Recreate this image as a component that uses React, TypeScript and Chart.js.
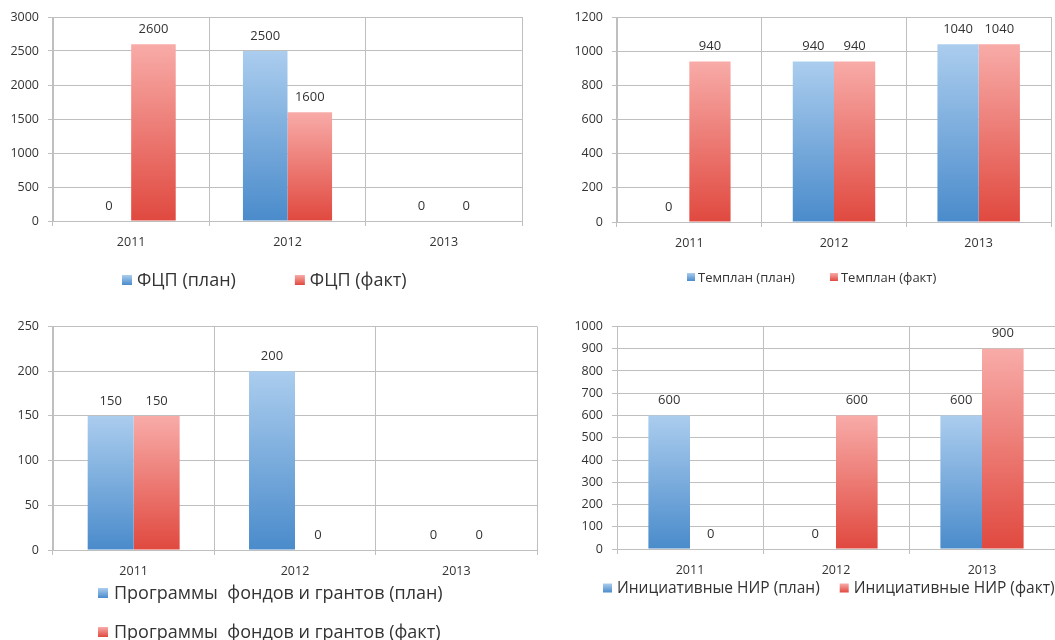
import React, { useEffect, useRef } from "react";
import { Chart, registerables } from "chart.js";
Chart.register(...registerables);

// ---------- data ----------
const years = ["2011", "2012", "2013"];

const fcpLabels = ["ФЦП (план)", "ФЦП (факт)"];
const fcpPlan = [0, 2500, 0];
const fcpFact = [2600, 1600, 0];

const templanLabels = ["Темплан (план)", "Темплан (факт)"];
const templanPlan = [0, 940, 1040];
const templanFact = [940, 940, 1040];

const grantLabels = ["Программы  фондов и грантов (план)", "Программы  фондов и грантов (факт)"];
const grantPlan = [150, 200, 0];
const grantFact = [150, 0, 0];

const nirLabels = ["Инициативные НИР (план)", "Инициативные НИР (факт)"];
const nirPlan = [600, 0, 600];
const nirFact = [0, 600, 900];

// ---------- styles ----------
const FONT = "'Open Sans', 'Noto Sans', sans-serif";
const TEXT = "#333333";
const GRID = "#bfbfbf";
const BLUE: [string, string] = ["#abcdee", "#4a8bcb"];
const RED: [string, string] = ["#f8aba8", "#e0493f"];

type LegendCfg = { x: number; y: number; size: number; box: number; textGap: number; gap: number; wrap?: boolean; rowGap?: number };
type Spec = {
  left: number; top: number; width: number; height: number;
  labels: string[]; plan: number[]; fact: number[];
  max: number; step: number;
  yW: number; xH: number; padTop: number; padRight: number; padBottom: number;
  legend: LegendCfg;
};

const specs: Spec[] = [
  { left: 0, top: 0, width: 530, height: 300, labels: fcpLabels, plan: fcpPlan, fact: fcpFact, max: 3000, step: 500,
    yW: 53, xH: 35, padTop: 17, padRight: 8, padBottom: 44,
    legend: { x: 122, y: 280, size: 18, box: 10, textGap: 5, gap: 59 } },
  { left: 530, top: 0, width: 525, height: 300, labels: templanLabels, plan: templanPlan, fact: templanFact, max: 1200, step: 200,
    yW: 87, xH: 37, padTop: 17, padRight: 4, padBottom: 41,
    legend: { x: 157, y: 277, size: 13, box: 8, textGap: 3, gap: 35 } },
  { left: 0, top: 310, width: 540, height: 330, labels: grantLabels, plan: grantPlan, fact: grantFact, max: 250, step: 50,
    yW: 53, xH: 35, padTop: 14, padRight: 3, padBottom: 55,
    legend: { x: 98, y: 283, size: 18, box: 10, textGap: 6, gap: 20, wrap: true, rowGap: 39 } },
  { left: 540, top: 310, width: 515, height: 330, labels: nirLabels, plan: nirPlan, fact: nirFact, max: 1000, step: 100,
    yW: 77, xH: 35, padTop: 16, padRight: 0, padBottom: 56,
    legend: { x: 63, y: 278, size: 15.5, box: 9, textGap: 5, gap: 20 } },
];

function gradientFill(colors: [string, string]) {
  return (ctx: any) => {
    const chart = ctx.chart;
    const y = chart.scales && chart.scales.y;
    if (!y || ctx.type !== "data") return colors[1];
    const v = ctx.raw as number;
    const top = y.getPixelForValue(v);
    const bot = y.getPixelForValue(0);
    if (!isFinite(top) || !isFinite(bot) || bot - top < 1) return colors[1];
    const g = chart.ctx.createLinearGradient(0, top, 0, bot);
    g.addColorStop(0, colors[0]);
    g.addColorStop(1, colors[1]);
    return g;
  };
}

const valueLabels = {
  id: "valueLabels",
  afterDatasetsDraw(chart: any) {
    const ctx = chart.ctx;
    ctx.save();
    ctx.font = `13px ${FONT}`;
    ctx.fillStyle = TEXT;
    ctx.textAlign = "center";
    ctx.textBaseline = "middle";
    chart.data.datasets.forEach((ds: any, di: number) => {
      const meta = chart.getDatasetMeta(di);
      meta.data.forEach((bar: any, i: number) => {
        ctx.fillText(String(ds.data[i]), bar.x, bar.y - 15);
      });
    });
    ctx.restore();
  },
};

function makeLegend(cfg: LegendCfg, colors: [string, string][]) {
  return {
    id: "boxLegend",
    afterDraw(chart: any) {
      const ctx = chart.ctx;
      ctx.save();
      ctx.font = `${cfg.size}px ${FONT}`;
      ctx.textBaseline = "middle";
      ctx.textAlign = "left";
      let x = cfg.x;
      let y = cfg.y;
      chart.data.datasets.forEach((ds: any, i: number) => {
        if (i > 0) {
          if (cfg.wrap) { x = cfg.x; y += cfg.rowGap || 0; } else { x += cfg.gap; }
        }
        const c = colors[i];
        const g = ctx.createLinearGradient(0, y - cfg.box / 2, 0, y + cfg.box / 2);
        g.addColorStop(0, c[0]);
        g.addColorStop(1, c[1]);
        ctx.fillStyle = g;
        ctx.fillRect(x, y - cfg.box / 2, cfg.box, cfg.box);
        x += cfg.box + cfg.textGap;
        ctx.fillStyle = TEXT;
        ctx.fillText(ds.label, x, y + 1);
        x += ctx.measureText(ds.label).width;
      });
      ctx.restore();
    },
  };
}

function BarPanel({ spec }: { spec: Spec }) {
  const ref = useRef<HTMLCanvasElement | null>(null);
  useEffect(() => {
    if (!ref.current) return;
    const chart = new Chart(ref.current, {
      type: "bar",
      data: {
        labels: years,
        datasets: [
          { label: spec.labels[0], data: spec.plan, backgroundColor: gradientFill(BLUE) as any, borderWidth: 0 },
          { label: spec.labels[1], data: spec.fact, backgroundColor: gradientFill(RED) as any, borderWidth: 0 },
        ],
      },
      options: {
        responsive: false,
        animation: false,
        devicePixelRatio: 1,
        layout: { padding: { left: 0, top: spec.padTop, right: spec.padRight, bottom: spec.padBottom } },
        datasets: { bar: { categoryPercentage: 0.57, barPercentage: 1.0 } },
        plugins: { legend: { display: false }, tooltip: { enabled: false } },
        scales: {
          x: {
            grid: { color: GRID, tickLength: 5, offset: true, lineWidth: 1 },
            border: { color: GRID },
            ticks: { color: TEXT, font: { family: FONT, size: 12.5 }, padding: 9 },
            afterFit: (s: any) => { s.height = spec.xH; },
          },
          y: {
            min: 0,
            max: spec.max,
            grid: { color: GRID, tickLength: 5, lineWidth: 1 },
            border: { color: GRID },
            ticks: {
              stepSize: spec.step, color: TEXT, font: { family: FONT, size: 12.5 }, padding: 9,
              callback: (v: any) => String(v),
            },
            afterFit: (s: any) => { s.width = spec.yW; },
          },
        },
      },
      plugins: [valueLabels, makeLegend(spec.legend, [BLUE, RED])],
    });
    return () => chart.destroy();
  }, [spec]);
  return (
    <canvas
      ref={ref}
      width={spec.width}
      height={spec.height}
      style={{ position: "absolute", left: spec.left, top: spec.top, width: spec.width, height: spec.height }}
    />
  );
}

export default function App() {
  return (
    <div style={{ position: "fixed", left: 0, top: 0, width: 1055, height: 640, background: "#ffffff", overflow: "hidden" }}>
      {specs.map((s, i) => (
        <BarPanel key={i} spec={s} />
      ))}
    </div>
  );
}
